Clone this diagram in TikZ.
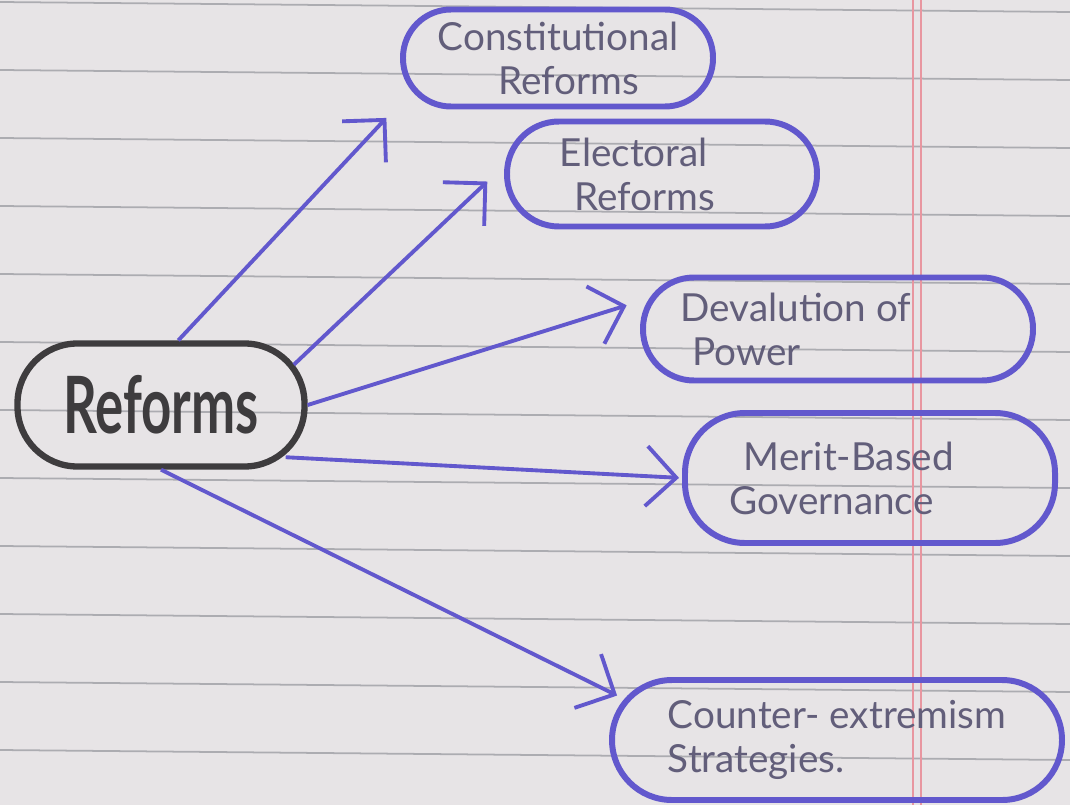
\documentclass[tikz,border=0pt]{standalone}
\usepackage{fontspec}
\setmainfont{Lato}
\usetikzlibrary{arrows.meta}
\definecolor{paper}{RGB}{231,228,230}
\definecolor{rulegray}{RGB}{172,172,177}
\definecolor{marginred}{RGB}{232,150,160}
\definecolor{ink}{RGB}{98,88,205}
\definecolor{pencil}{RGB}{98,94,122}
\definecolor{marker}{RGB}{62,60,62}
\tikzset{
  bubble/.style={rectangle, draw=ink, line width=1.7pt, inner sep=0pt, align=center,
    text=pencil, font=\fontsize{11}{12.5}\selectfont},
  hub/.style={rectangle, draw=marker, line width=1.8pt, inner sep=0pt,
    text=marker, font=\fontsize{15}{18}\selectfont\bfseries},
  arr/.style={draw=ink, line width=1.1pt, -{Straight Barb[length=3mm,width=6mm]}},
  ruling/.style={draw=rulegray, line width=0.5pt},
  marginline/.style={draw=marginred, line width=0.6pt},
}
\begin{document}
\begin{tikzpicture}[x=0.1mm,y=-0.1mm]
  \fill[paper] (0,0) rectangle (1070,805);
  \useasboundingbox (0,0) rectangle (1070,805);
  \foreach \k in {0,...,11} {
    \draw[ruling] (0,{2+68*\k}) -- (1070,{12+68*\k});
  }
  \draw[marginline] (913,0) -- (913,805);
  \draw[marginline] (921,0) -- (921,805);

  \node[hub, minimum width=28.7mm, minimum height=12.3mm, rounded corners=6mm] (ref) at (161,405) {\scalebox{1}[1.5]{Reforms}};
  \node[bubble, minimum width=31mm, minimum height=9.7mm, rounded corners=4.8mm] (con) at (558,58) {Constitutional\\Reforms\hspace*{-6pt}};
  \node[bubble, minimum width=31mm, minimum height=10.5mm, rounded corners=5.2mm] (ele) at (662,174) {Electoral\hspace*{16pt}\\Reforms\hspace*{10pt}};
  \node[bubble, minimum width=39mm, minimum height=10.3mm, rounded corners=5.1mm] (dev) at (838,329) {Devalution of\hspace*{24pt}\\Power\hspace*{52pt}};
  \node[bubble, minimum width=37mm, minimum height=13mm, rounded corners=6mm] (mer) at (870,478) {Merit-Based\hspace*{12pt}\\Governance\hspace*{22pt}};
  \node[bubble, minimum width=45mm, minimum height=12mm, rounded corners=6mm] (cou) at (837,740) {Counter- extremism\\Strategies.\hspace*{46pt}};

  \draw[arr, shorten >=2mm] (ref.75) -- (con.196);
  \draw[arr, shorten <=-1.9mm, shorten >=2.3mm] (ref.20) -- (ele.177);
  \draw[arr, shorten >=1.4mm] (ref.east) -- (dev.172);
  \draw[arr, shorten <=-2.2mm, shorten >=0.3mm] (ref.-20) -- (mer.west);
  \draw[arr, shorten >=-0.9mm] (ref.south) -- (cou.168);
\end{tikzpicture}
\end{document}
